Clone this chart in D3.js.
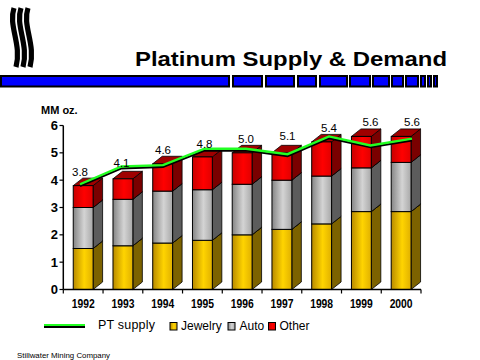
<!DOCTYPE html>
<html><head><meta charset="utf-8">
<script src="https://cdn.jsdelivr.net/npm/d3@7"></script>
<style>html,body{margin:0;padding:0;background:#fff;}svg{display:block;font-family:Arial,"Liberation Sans",sans-serif;}</style>
</head><body>
<script>
const years = ["1992","1993","1994","1995","1996","1997","1998","1999","2000"];
const jewelry = [1.5, 1.6, 1.7, 1.8, 2.0, 2.2, 2.4, 2.85, 2.85];
const auto = [1.5, 1.7, 1.9, 1.85, 1.85, 1.8, 1.75, 1.6, 1.8];
const other = [0.8, 0.75, 1.0, 1.2, 1.15, 1.0, 1.25, 1.15, 0.95];
const ptSupply = [3.85, 4.5, 4.55, 5.15, 5.15, 4.95, 5.6, 5.27, 5.52];
const labelValues = [3.8, 4.1, 4.6, 4.8, 5.0, 5.1, 5.4, 5.6, 5.6];
const dataLabels = ["3.8","4.1","4.6","4.8","5.0","5.1","5.4","5.6","5.6"];
const yTicks = [0, 1, 2, 3, 4, 5, 6];
const seriesNames = ["Jewelry", "Auto", "Other"];

const W = 480, H = 360;
const svg = d3.select("body").append("svg").attr("width", W).attr("height", H);
svg.append("rect").attr("width", W).attr("height", H).attr("fill", "#fff");

const defs = svg.append("defs");
const styles = {
  Jewelry: {front: ["#b88a00", "#ffd400", "#e0b000"], side: "#7c6200", top: "#c09a00"},
  Auto: {front: ["#858585", "#d4d4d4", "#a8a8a8"], side: "#5c5c5c", top: "#8a8a8a"},
  Other: {front: ["#c80000", "#ff0000", "#e00000"], side: "#7a0000", top: "#a00000"}
};
seriesNames.forEach(n => {
  const g = defs.append("linearGradient").attr("id", "g" + n).attr("x1", 0).attr("x2", 1).attr("y1", 0).attr("y2", 0);
  g.append("stop").attr("offset", 0).attr("stop-color", styles[n].front[0]);
  g.append("stop").attr("offset", 0.55).attr("stop-color", styles[n].front[1]);
  g.append("stop").attr("offset", 1).attr("stop-color", styles[n].front[2]);
});

// logo
const logo = svg.append("g");
[14, 21, 28].forEach(x0 => {
  logo.append("path")
    .attr("d", `M${x0},8 C${x0-6},26 ${x0+8},44 ${x0+2},67`)
    .attr("fill", "none").attr("stroke", "#000").attr("stroke-width", 5.2);
});

// title
svg.append("text").attr("x", 135).attr("y", 66)
  .attr("font-size", 21).attr("font-weight", "bold").attr("fill", "#000")
  .attr("textLength", 312).attr("lengthAdjust", "spacingAndGlyphs")
  .text("Platinum Supply & Demand");

// decorative blue band
const blocks = [[0,230],[232,263],[265,295],[297,317],[319,348],[349,371],[372,390],[391,404],[405,419],[420,426],[427,432],[433,438]];
const band = svg.append("g");
blocks.forEach(b => {
  band.append("rect").attr("x", b[0]).attr("y", 75).attr("width", b[1]-b[0]).attr("height", 12.5).attr("fill", "#000");
  if (b[1]-b[0] > 4) band.append("rect").attr("x", b[0]+2).attr("y", 77).attr("width", b[1]-b[0]-4).attr("height", 8.5).attr("fill", "#0000ff");
});

// scales
const x = d3.scaleBand().domain(years).range([63.3, 421]).paddingInner(0.5).paddingOuter(0.25);
const xLine = d3.scalePoint().domain(years).range([80, 412]);
const y = d3.scaleLinear().domain([0, 6]).range([289.5, 125.5]);
const dx = 9.5, dy = -7.5;

// stacked bars
const rows = years.map((yr, i) => ({year: yr, Jewelry: jewelry[i], Auto: auto[i], Other: other[i]}));
const stacked = d3.stack().keys(seriesNames)(rows);

const barsG = svg.append("g");
years.forEach((yr, i) => {
  const bx = x(yr), bw = x.bandwidth();
  stacked.forEach(s => {
    const n = s.key;
    const y0 = y(s[i][0]), y1 = y(s[i][1]);
    const g = barsG.append("g");
    g.append("path")
      .attr("d", `M${bx+bw},${y0} L${bx+bw+dx},${y0+dy} L${bx+bw+dx},${y1+dy} L${bx+bw},${y1} Z`)
      .attr("fill", styles[n].side).attr("stroke", "#000").attr("stroke-width", 0.8);
    g.append("path")
      .attr("d", `M${bx},${y1} L${bx+dx},${y1+dy} L${bx+bw+dx},${y1+dy} L${bx+bw},${y1} Z`)
      .attr("fill", styles[n].top).attr("stroke", "#000").attr("stroke-width", 0.8);
    g.append("rect").attr("x", bx).attr("y", y1).attr("width", bw).attr("height", y0 - y1)
      .attr("fill", `url(#g${n})`).attr("stroke", "#000").attr("stroke-width", 1);
  });
});

// axes
const axG = svg.append("g");
axG.append("line").attr("x1", 63.3).attr("x2", 63.3).attr("y1", y(6)).attr("y2", y(0)).attr("stroke", "#000").attr("stroke-width", 1.5);
axG.append("line").attr("x1", 63.3).attr("x2", 421).attr("y1", y(0)).attr("y2", y(0)).attr("stroke", "#000").attr("stroke-width", 1.5);
yTicks.forEach(t => {
  axG.append("line").attr("x1", 59.5).attr("x2", 63.3).attr("y1", y(t)).attr("y2", y(t)).attr("stroke", "#000").attr("stroke-width", 1.2);
  axG.append("text").attr("x", 58).attr("y", y(t) + 4.5).attr("text-anchor", "end")
    .attr("font-size", 13).attr("font-weight", "bold").text(t);
});
d3.range(years.length + 1).forEach(k => {
  const tx = 63.3 + (421 - 63.3) * k / years.length;
  axG.append("line").attr("x1", tx).attr("x2", tx).attr("y1", y(0)).attr("y2", y(0) + 4).attr("stroke", "#000").attr("stroke-width", 1.2);
});
years.forEach(yr => {
  axG.append("text").attr("x", x(yr) + x.bandwidth()/2).attr("y", 307.5).attr("text-anchor", "middle")
    .attr("font-size", 12).attr("font-weight", "bold")
    .attr("textLength", 23).attr("lengthAdjust", "spacingAndGlyphs").text(yr);
});
svg.append("text").attr("x", 41).attr("y", 113.5).attr("font-size", 11).attr("font-weight", "bold").text("MM oz.");

// supply line
const line = d3.line().x((d, i) => xLine(years[i])).y(d => y(d));
svg.append("path").datum(ptSupply).attr("d", line).attr("transform", "translate(0,1.8)")
  .attr("fill", "none").attr("stroke", "#000").attr("stroke-width", 2.2);
svg.append("path").datum(ptSupply).attr("d", line)
  .attr("fill", "none").attr("stroke", "#22ff22").attr("stroke-width", 2.4);

// data labels
svg.append("g").selectAll("text").data(labelValues).join("text")
  .attr("x", (d, i) => xLine(years[i])).attr("y", d => y(d) - 10)
  .attr("text-anchor", "middle").attr("font-size", 11.5).attr("fill", "#000")
  .text((d, i) => dataLabels[i]);

// legend
const lg = svg.append("g");
lg.append("line").attr("x1", 44).attr("x2", 85).attr("y1", 327).attr("y2", 327).attr("stroke", "#000").attr("stroke-width", 2);
lg.append("line").attr("x1", 44).attr("x2", 85).attr("y1", 325).attr("y2", 325).attr("stroke", "#22ff22").attr("stroke-width", 2);
lg.append("text").attr("x", 98).attr("y", 329).attr("font-size", 12.5)
  .attr("textLength", 57).attr("lengthAdjust", "spacing").text("PT supply");
const legX = {Jewelry: [170, 181], Auto: [228, 239.5], Other: [268.5, 279.5]};
seriesNames.forEach(n => {
  lg.append("rect").attr("x", legX[n][0]).attr("y", 322.5).attr("width", 7).attr("height", 7.5)
    .attr("fill", `url(#g${n})`).attr("stroke", "#000").attr("stroke-width", 1);
  lg.append("text").attr("x", legX[n][1]).attr("y", 330).attr("font-size", 12).text(n);
});

// footer
svg.append("text").attr("x", 17).attr("y", 358).attr("font-size", 8)
  .attr("textLength", 93).attr("lengthAdjust", "spacingAndGlyphs").text("Stillwater Mining Company");
</script>
</body></html>
